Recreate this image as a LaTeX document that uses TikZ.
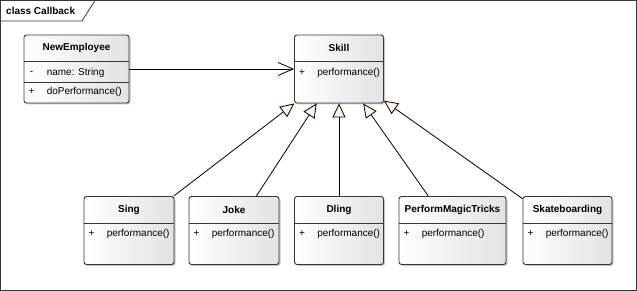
\documentclass[tikz,border=0pt]{standalone}
\usepackage{fontspec}
\setmainfont{Liberation Sans}
\usetikzlibrary{arrows.meta,shadows}

\definecolor{boxline}{RGB}{55,55,55}
\definecolor{tipfill}{RGB}{253,244,228}

\tikzset{
  classbox/.style={draw=boxline, line width=0.9pt, rounded corners=2.5pt,
    left color=white, right color=black!11, minimum height=68pt, inner sep=0pt,
    drop shadow={shadow xshift=1.5pt, shadow yshift=-1.5pt, fill=black, opacity=0.22}},
  sep/.style={draw=boxline, line width=0.8pt},
  title/.style={font=\bfseries, inner sep=0pt},
  vis/.style={inner sep=0pt},
  member/.style={anchor=west, inner sep=0pt},
  gen/.style={line width=0.8pt, -{Triangle[length=14pt,width=13pt,fill=tipfill]}},
  assoc/.style={line width=0.8pt, -{Straight Barb[length=15pt,width=13pt]}}
}

\begin{document}
\begin{tikzpicture}[x=1pt, y=-1pt, font=\fontsize{10}{12}\selectfont]
  \useasboundingbox (0,0) rectangle (637,291);

  % Frame
  \draw[boxline, line width=0.8pt] (0.5,0.5) rectangle (636,290);
  \draw[boxline, line width=0.8pt] (0.5,21) -- (82,21) -- (95,0.5);
  \node[title, anchor=west] (frametitle) at (6,11) {class Callback};

  % NewEmployee
  \node[classbox, minimum width=105pt] (newemp) at (76.5,69) {};
  \node[title] (newempname) at ([yshift=-13.5pt]newemp.north) {NewEmployee};
  \draw[sep] ([yshift=-27pt]newemp.north west) -- ([yshift=-27pt]newemp.north east);
  \node[vis] (newempvisa) at ([xshift=8pt,yshift=-38pt]newemp.north west) {-};
  \node[member] (newempattr) at ([xshift=23pt,yshift=-38pt]newemp.north west) {name: String};
  \draw[sep] ([yshift=-48pt]newemp.north west) -- ([yshift=-48pt]newemp.north east);
  \node[vis] (newempviso) at ([xshift=8pt,yshift=-57pt]newemp.north west) {+};
  \node[member] (newempop) at ([xshift=23pt,yshift=-57pt]newemp.north west) {doPerformance()};

  % Skill
  \node[classbox, minimum width=89pt] (skill) at (339,69) {};
  \node[title] (skillname) at ([yshift=-13.5pt]skill.north) {Skill};
  \draw[sep] ([yshift=-27pt]skill.north west) -- ([yshift=-27pt]skill.north east);
  \node[vis] (skillvis) at ([xshift=8pt,yshift=-38pt]skill.north west) {+};
  \node[member] (skillop) at ([xshift=23pt,yshift=-38pt]skill.north west) {performance()};

  % Sing
  \node[classbox, minimum width=90pt] (sing) at (129,230.5) {};
  \node[title] (singname) at ([yshift=-14pt]sing.north) {Sing};
  \draw[sep] ([yshift=-27pt]sing.north west) -- ([yshift=-27pt]sing.north east);
  \node[vis] (singvis) at ([xshift=8pt,yshift=-37.5pt]sing.north west) {+};
  \node[member] (singop) at ([xshift=23pt,yshift=-37.5pt]sing.north west) {performance()};

  % Joke
  \node[classbox, minimum width=90pt] (joke) at (234,230.5) {};
  \node[title] (jokename) at ([yshift=-14pt]joke.north) {Joke};
  \draw[sep] ([yshift=-27pt]joke.north west) -- ([yshift=-27pt]joke.north east);
  \node[vis] (jokevis) at ([xshift=8pt,yshift=-37.5pt]joke.north west) {+};
  \node[member] (jokeop) at ([xshift=23pt,yshift=-37.5pt]joke.north west) {performance()};

  % Dling
  \node[classbox, minimum width=89pt] (dling) at (339,230.5) {};
  \node[title] (dlingname) at ([yshift=-14pt]dling.north) {Dling};
  \draw[sep] ([yshift=-27pt]dling.north west) -- ([yshift=-27pt]dling.north east);
  \node[vis] (dlingvis) at ([xshift=8pt,yshift=-37.5pt]dling.north west) {+};
  \node[member] (dlingop) at ([xshift=23pt,yshift=-37.5pt]dling.north west) {performance()};

  % PerformMagicTricks
  \node[classbox, minimum width=107pt] (magic) at (452.5,230.5) {};
  \node[title] (magicname) at ([yshift=-14pt]magic.north) {PerformMagicTricks};
  \draw[sep] ([yshift=-27pt]magic.north west) -- ([yshift=-27pt]magic.north east);
  \node[vis] (magicvis) at ([xshift=8pt,yshift=-37.5pt]magic.north west) {+};
  \node[member] (magicop) at ([xshift=23pt,yshift=-37.5pt]magic.north west) {performance()};

  % Skateboarding
  \node[classbox, minimum width=89pt] (skate) at (567.5,230.5) {};
  \node[title] (skatename) at ([yshift=-14pt]skate.north) {Skateboarding};
  \draw[sep] ([yshift=-27pt]skate.north west) -- ([yshift=-27pt]skate.north east);
  \node[vis] (skatevis) at ([xshift=8pt,yshift=-37.5pt]skate.north west) {+};
  \node[member] (skateop) at ([xshift=23pt,yshift=-37.5pt]skate.north west) {performance()};

  % Connectors
  \draw[assoc] (newemp) -- (skill);
  \draw[gen] (sing) -- (skill);
  \draw[gen] (joke) -- (skill);
  \draw[gen] (dling) -- (skill);
  \draw[gen] (magic) -- (skill);
  \draw[gen] (skate) -- (skill);
\end{tikzpicture}
\end{document}
